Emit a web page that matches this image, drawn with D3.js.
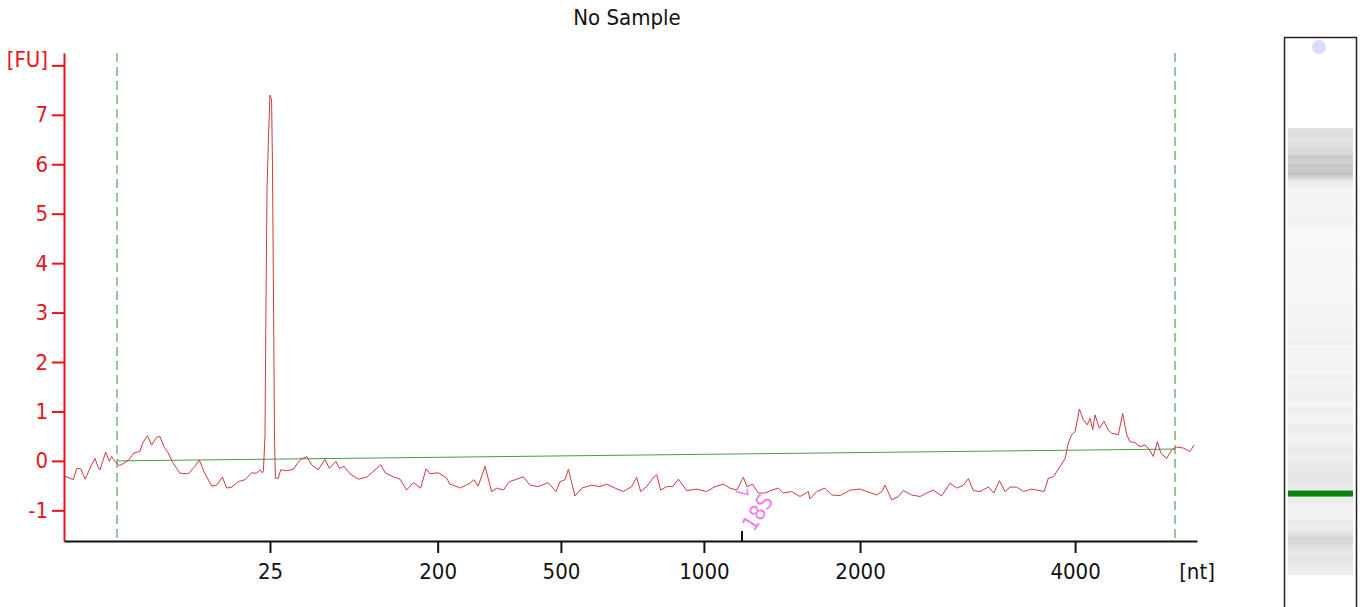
<!DOCTYPE html>
<html>
<head>
<meta charset="utf-8">
<script src="https://cdn.jsdelivr.net/npm/d3@7"></script>
<style>
  body { margin: 0; background: #fff; }
  svg { display: block; font-family: "DejaVu Sans Condensed", "DejaVu Sans", sans-serif; }
</style>
</head>
<body>
<div id="chart"></div>
<script>
// migration time (s) and fluorescence (FU)
const traceTime = [
  19.00, 19.41, 19.56, 19.74, 19.93, 20.22, 20.37, 20.49, 20.59, 20.84, 21.00, 21.10, 21.25, 21.44,
  21.69, 21.84, 22.09, 22.35, 22.47, 22.68, 22.87, 23.09, 23.24, 23.41, 23.60, 23.82, 24.12, 24.49,
  24.78, 24.97, 25.18, 25.52, 25.74, 25.99, 26.18, 26.40, 26.69, 26.99, 27.28, 27.50, 27.65, 27.75,
  27.80, 27.87, 27.91, 27.96, 28.02, 28.09, 28.16, 28.20, 28.25, 28.29, 28.33,
  28.46, 28.56, 28.83, 29.12, 29.30, 29.45, 29.71, 29.93, 30.22, 30.52, 30.71, 31.00, 31.15, 31.36,
  31.62, 31.99, 32.36, 32.68, 32.98, 33.17, 33.53, 33.83, 34.12, 34.42, 34.74, 34.98, 35.15, 35.52,
  35.89, 36.03, 36.40, 36.48, 36.92, 37.09, 37.28, 37.58, 37.87, 38.10, 38.39, 38.65, 38.98, 39.27,
  39.56, 39.93, 40.37, 40.71, 40.89, 41.11, 41.26, 41.55, 41.85, 42.29, 42.65, 42.95, 43.32, 43.68,
  44.05, 44.27, 44.45, 44.71, 45.04, 45.16, 45.33, 45.60, 45.86, 46.11, 46.48, 46.92, 47.36, 47.73,
  48.10, 48.39, 48.69, 48.98, 49.15, 49.39, 49.64, 49.94, 50.19, 50.52, 50.74, 51.11, 51.48, 51.85,
  51.92, 52.22, 52.58, 52.88, 53.25, 53.69, 54.13, 54.57, 54.86, 55.09, 55.23, 55.53, 55.82, 56.04,
  56.41, 56.78, 57.07, 57.36, 57.73, 58.10, 58.40, 58.69, 58.91, 59.13, 59.42, 59.79, 60.04, 60.28,
  60.53, 60.75, 61.04, 61.34, 61.71, 62.07, 62.25, 62.44, 62.66, 62.95, 63.18, 63.32, 63.47, 63.62,
  63.81, 63.98, 64.16, 64.28, 64.40, 64.50, 64.69, 64.90, 65.08, 65.23, 65.53, 65.72, 65.90, 66.04,
  66.26, 66.48, 66.70, 66.85, 67.07, 67.25, 67.40, 67.66, 67.88, 68.10, 68.40, 68.69, 68.87
];
const traceFU = [
  -0.30, -0.38, -0.15, -0.16, -0.37, -0.08, 0.05, -0.11, -0.18, 0.18, -0.01, 0.09, -0.01, -0.10,
  -0.03, 0.01, 0.16, 0.19, 0.36, 0.51, 0.32, 0.48, 0.49, 0.29, 0.16, -0.05, -0.25, -0.26,
  -0.11, 0.02, -0.22, -0.51, -0.49, -0.33, -0.55, -0.53, -0.42, -0.38, -0.24, -0.25, -0.18, -0.24,
  -0.20, 0.50, 3.00, 5.50, 6.50, 7.40, 7.30, 6.00, 3.00, 0.50, -0.35,
  -0.35, -0.18, -0.20, -0.17, -0.05, 0.03, 0.09, -0.08, -0.18, 0.03, -0.15, -0.01, -0.15, -0.11,
  -0.26, -0.37, -0.33, -0.20, -0.08, -0.24, -0.32, -0.37, -0.59, -0.44, -0.55, -0.16, -0.26, -0.24,
  -0.35, -0.47, -0.53, -0.55, -0.45, -0.38, -0.51, -0.11, -0.62, -0.55, -0.59, -0.42, -0.37, -0.32,
  -0.49, -0.52, -0.44, -0.62, -0.42, -0.38, -0.17, -0.71, -0.55, -0.49, -0.52, -0.47, -0.55, -0.62,
  -0.52, -0.33, -0.62, -0.52, -0.32, -0.28, -0.59, -0.52, -0.52, -0.37, -0.60, -0.57, -0.62, -0.52,
  -0.47, -0.55, -0.59, -0.33, -0.52, -0.47, -0.65, -0.65, -0.60, -0.55, -0.65, -0.62, -0.72, -0.62,
  -0.77, -0.62, -0.55, -0.69, -0.70, -0.59, -0.57, -0.64, -0.69, -0.62, -0.49, -0.79, -0.72, -0.60,
  -0.69, -0.72, -0.65, -0.59, -0.71, -0.45, -0.55, -0.49, -0.36, -0.60, -0.62, -0.53, -0.65, -0.40,
  -0.62, -0.53, -0.53, -0.62, -0.57, -0.60, -0.62, -0.35, -0.32, -0.12, 0.05, 0.36, 0.53, 0.59,
  1.05, 0.83, 0.73, 0.86, 0.63, 0.93, 0.66, 0.80, 0.63, 0.56, 0.53, 0.96, 0.53, 0.39,
  0.37, 0.29, 0.32, 0.26, 0.09, 0.39, 0.16, 0.05, 0.22, 0.28, 0.26, 0.19, 0.32
];

// baseline and integration window
const baselineTime = [21.34, 68.03];
const baselineFU = [0.0, 0.24];
const windowTimes = [21.34, 68.03];

// ladder sizes on the x axis
const sizeLabels = ['25', '200', '500', '1000', '2000', '4000'];
const sizeTimes = [28.09, 35.49, 40.93, 47.24, 54.13, 63.62];

const fuTicks = [-1, 0, 1, 2, 3, 4, 5, 6, 7, 8];

// identified peaks
const peakNames = ['18S'];
const peakTimes = [48.92];

const markerTime = 28.09;

const W = 1371;
const H = 607;

const svg = d3.select('#chart').append('svg').attr('width', W).attr('height', H);

const x = d3.scaleLinear().domain([19, 69]).range([64, 1197]);
const y = d3.scaleLinear().domain([-1.62, 8.25]).range([541, 53]);

// title
svg.append('text')
  .attr('x', 627)
  .attr('y', 25)
  .attr('text-anchor', 'middle')
  .attr('font-size', 22)
  .attr('fill', '#111')
  .text('No Sample');

// integration window (dashed)
svg.selectAll('.win')
  .data(windowTimes)
  .enter()
  .append('line')
  .attr('class', 'win')
  .attr('x1', d => x(d))
  .attr('x2', d => x(d))
  .attr('y1', y.range()[1])
  .attr('y2', y.range()[0])
  .attr('stroke', '#2f8f2f')
  .attr('stroke-width', 1)
  .attr('stroke-dasharray', '9,5');

// baseline
svg.append('path')
  .datum(d3.zip(baselineTime, baselineFU))
  .attr('d', d3.line().x(d => x(d[0])).y(d => y(d[1])))
  .attr('fill', 'none')
  .attr('stroke', '#4a9a4a')
  .attr('stroke-width', 1);

// trace
svg.append('path')
  .datum(d3.zip(traceTime, traceFU))
  .attr('d', d3.line().x(d => x(d[0])).y(d => y(d[1])))
  .attr('fill', 'none')
  .attr('stroke', '#c93c3c')
  .attr('stroke-width', 1);

// y axis
const yAxis = svg.append('g')
  .attr('transform', `translate(${x.range()[0]},0)`)
  .call(d3.axisLeft(y).tickValues(fuTicks).tickSize(12).tickSizeOuter(0).tickPadding(4)
    .tickFormat(d => (d === 8 ? '[FU]' : d)));
yAxis.select('.domain').attr('stroke', '#e8141b').attr('stroke-width', 2);
yAxis.selectAll('.tick line').attr('stroke', '#e8141b').attr('stroke-width', 2);
yAxis.selectAll('.tick text')
  .attr('fill', '#e8141b')
  .attr('font-size', 22)
  .attr('font-family', '"DejaVu Sans Condensed", "DejaVu Sans", sans-serif');
yAxis.selectAll('.tick text').filter(d => d === 8).attr('dy', '0.05em');

// x axis
const xAxis = svg.append('g')
  .attr('transform', `translate(0,${y.range()[0]})`)
  .call(d3.axisBottom(x).tickValues(sizeTimes).tickSize(12).tickSizeOuter(0)
    .tickFormat((d, i) => sizeLabels[i]));
xAxis.select('.domain').attr('stroke', '#111').attr('stroke-width', 2);
xAxis.selectAll('.tick line').attr('stroke', '#111').attr('stroke-width', 2);
xAxis.selectAll('.tick text')
  .attr('y', 38)
  .attr('dy', null)
  .attr('fill', '#111')
  .attr('font-size', 22)
  .attr('font-family', '"DejaVu Sans Condensed", "DejaVu Sans", sans-serif');

svg.append('text')
  .attr('x', x.range()[1])
  .attr('y', y.range()[0] + 38)
  .attr('text-anchor', 'middle')
  .attr('font-size', 22)
  .attr('fill', '#111')
  .text('[nt]');

// peak markers
peakNames.forEach((name, i) => {
  const px = x(peakTimes[i]);
  svg.append('line')
    .attr('x1', px).attr('x2', px)
    .attr('y1', y.range()[0]).attr('y2', y.range()[0] - 10)
    .attr('stroke', '#111')
    .attr('stroke-width', 2);
  svg.append('path')
    .attr('d', `M${px - 6},${y(-0.62)} L${px + 6},${y(-0.68)} L${px + 5},${y(-0.56)}`)
    .attr('fill', 'none')
    .attr('stroke', '#f07cf0')
    .attr('stroke-width', 1.5);
  svg.append('text')
    .attr('transform', `translate(${px + 12},${y(-1.45)}) rotate(-58)`)
    .attr('font-size', 22)
    .attr('fill', '#f07cf0')
    .text(name);
});

// gel lane
const gel = svg.append('g');
const gelY = d3.scaleLinear().domain([19, 69]).range([575, 127]);
const gelGray = d3.scaleLinear().domain([-0.8, 0.2, 1.1]).range(['#fbfbfb', '#e0e0e0', '#b9b9b9']).clamp(true);
const gelRows = d3.pairs(d3.zip(traceTime, traceFU));

gel.selectAll('rect.band')
  .data(gelRows)
  .enter()
  .append('rect')
  .attr('class', 'band')
  .attr('x', 1288)
  .attr('width', 65)
  .attr('y', d => gelY(d[1][0]))
  .attr('height', d => gelY(d[0][0]) - gelY(d[1][0]) + 0.5)
  .attr('fill', d => gelGray((d[0][1] + d[1][1]) / 2));

gel.append('rect')
  .attr('x', 1288)
  .attr('width', 65)
  .attr('y', gelY(markerTime) - 3)
  .attr('height', 6)
  .attr('fill', '#0a840a');

gel.append('circle')
  .attr('cx', 1319)
  .attr('cy', 47)
  .attr('r', 7)
  .attr('fill', '#d9dcff');

gel.append('rect')
  .attr('x', 1284.5)
  .attr('y', 37.5)
  .attr('width', 72)
  .attr('height', 600)
  .attr('fill', 'none')
  .attr('stroke', '#222')
  .attr('stroke-width', 1.5);
</script>
</body>
</html>
